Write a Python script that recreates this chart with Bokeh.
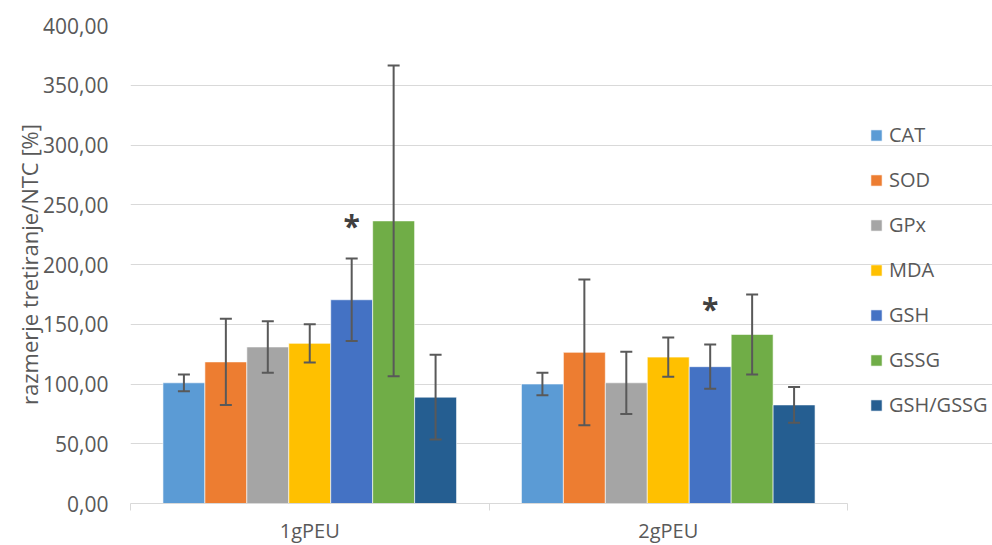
from bokeh.plotting import figure
from bokeh.models import (Range1d, FixedTicker, Whisker, TeeHead, ColumnDataSource,
                          Legend, LegendItem)
from bokeh.core.properties import value
from bokeh.embed import file_html
from bokeh.resources import INLINE

groups = ["1gPEU", "2gPEU"]
series = ["CAT", "SOD", "GPx", "MDA", "GSH", "GSSG", "GSH/GSSG"]
colors = ["#5B9BD5", "#ED7D31", "#A5A5A5", "#FFC000", "#4472C4", "#70AD47", "#255E91"]
means_1g = [101.0, 118.5, 131.0, 134.0, 170.5, 236.5, 89.0]
means_2g = [100.0, 126.5, 101.0, 122.5, 114.5, 141.5, 82.5]
err_1g = [7.0, 36.0, 21.5, 16.0, 34.5, 130.0, 35.5]
err_2g = [9.5, 61.0, 26.0, 16.5, 18.5, 33.5, 15.0]
star_series = "GSH"
star_y = [233.0, 163.0]
y_ticks = [0, 50, 100, 150, 200, 250, 300, 350, 400]

FONT = "Open Sans"
TXT = "#595959"
GRID = "#d9d9d9"
BAR_W = 0.117

# plotting area of the groups is 717 px wide; the frame extends right to hold the legend
GROUP_PX = 717
FRAME_W = 862
n = len(groups)
x_end = n * FRAME_W / GROUP_PX

p = figure(frame_width=FRAME_W, frame_height=478, x_range=Range1d(0, x_end), y_range=Range1d(0, 400),
           output_backend="svg", toolbar_location=None,
           min_border_left=130, min_border_top=25, min_border_bottom=42, min_border_right=0)
p.outline_line_color = None
p.background_fill_color = "white"
p.border_fill_color = "white"

# grid
p.xgrid.grid_line_color = None
p.ygrid.grid_line_color = GRID
p.ygrid.grid_line_width = 1
p.ygrid.bounds = (0, n)

# y axis
p.yaxis.ticker = FixedTicker(ticks=y_ticks, minor_ticks=[])
p.yaxis.major_label_overrides = {t: f"{t:.2f}".replace(".", ",") for t in y_ticks}
p.yaxis.axis_line_color = None
p.yaxis.major_tick_line_color = None
p.yaxis.minor_tick_line_color = None
p.yaxis.major_tick_out = 0
p.yaxis.major_label_standoff = 22
p.yaxis.major_label_text_font = FONT
p.yaxis.major_label_text_font_size = "21px"
p.yaxis.major_label_text_color = TXT
p.yaxis.axis_label = "razmerje tretiranje/NTC [%]"
p.yaxis.axis_label_text_font = FONT
p.yaxis.axis_label_text_font_size = "22px"
p.yaxis.axis_label_text_font_style = "normal"
p.yaxis.axis_label_text_color = TXT
p.yaxis.axis_label_standoff = -4

# x axis
centers = [i + 0.5 for i in range(n)]
p.xaxis.ticker = FixedTicker(ticks=centers, minor_ticks=[float(i) for i in range(n + 1)])
p.xaxis.major_label_overrides = {c: g for c, g in zip(centers, groups)}
p.xaxis.bounds = (0, n)
p.xaxis.axis_line_color = GRID
p.xaxis.major_tick_line_color = None
p.xaxis.major_tick_out = 0
p.xaxis.major_tick_in = 0
p.xaxis.minor_tick_line_color = GRID
p.xaxis.minor_tick_out = 7
p.xaxis.minor_tick_in = 0
p.xaxis.major_label_standoff = 6
p.xaxis.major_label_text_font = FONT
p.xaxis.major_label_text_font_size = "20px"
p.xaxis.major_label_text_color = TXT

items = []
for si, (name, col) in enumerate(zip(series, colors)):
    xs = [gi + 0.5 + (si - (len(series) - 1) / 2) * BAR_W for gi in range(n)]
    tops = [means_1g[si], means_2g[si]]
    errs = [err_1g[si], err_2g[si]]
    src = ColumnDataSource(dict(x=xs, top=tops,
                                upper=[t + e for t, e in zip(tops, errs)],
                                lower=[t - e for t, e in zip(tops, errs)]))
    r = p.vbar(x="x", top="top", width=BAR_W, source=src, fill_color=col,
               line_color="white", line_width=0.6)
    items.append(LegendItem(label=name, renderers=[r]))
    w = Whisker(base="x", upper="upper", lower="lower", source=src, level="overlay",
                line_color="#595959", line_width=2,
                upper_head=TeeHead(size=12, line_color="#595959", line_width=2),
                lower_head=TeeHead(size=12, line_color="#595959", line_width=2))
    p.add_layout(w)
    if name == star_series:
        ssrc = ColumnDataSource(dict(x=xs, y=star_y, t=["*"] * len(xs)))
        p.text(x="x", y="y", text="t", source=ssrc, text_font=value(FONT),
               text_font_size="30px", text_color="#404040", text_align="center",
               text_baseline="middle", text_font_style="bold")

legend = Legend(items=items, location=(739, 85), orientation="vertical")
legend.glyph_width = 14
legend.glyph_height = 14
legend.label_standoff = 6
legend.label_height = 20
legend.spacing = 18
legend.padding = 8
legend.margin = 0
legend.border_line_color = None
legend.background_fill_alpha = 0
legend.label_text_font = FONT
legend.label_text_font_size = "20px"
legend.label_text_color = TXT
p.add_layout(legend, "center")

open("out.html", "w").write(file_html(p, INLINE))
